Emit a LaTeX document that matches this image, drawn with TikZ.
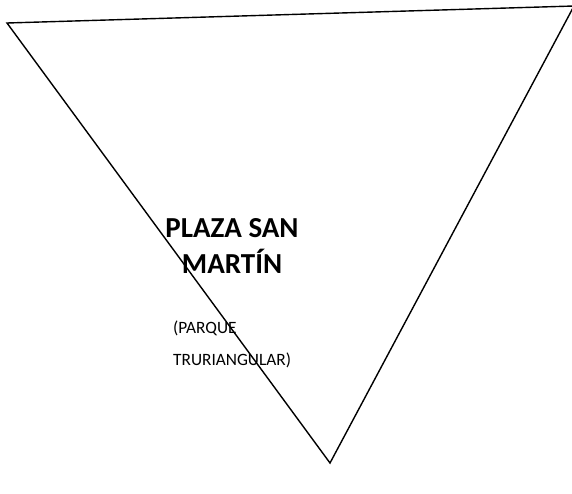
\documentclass[tikz,border=0pt]{standalone}
\usepackage{fontspec}
\setmainfont{Carlito}
\begin{document}
\begin{tikzpicture}[x=1pt,y=-1pt,
  edge/.style={line width=1.4pt,line join=miter},
  title/.style={font=\bfseries\fontsize{29}{34}\selectfont,inner sep=0pt,anchor=base},
  sub/.style={font=\fontsize{17.3}{21}\selectfont,inner sep=0pt,anchor=base west}]
\useasboundingbox (0,0) rectangle (572,493);
\coordinate (tl) at (7,23);
\coordinate (tr) at (574,6);
\coordinate (bt) at (330,463);
\draw[edge] (tl) -- (tr) -- (bt) -- cycle;
\node[title] (t1) at (232,237) {PLAZA SAN};
\node[title] (t2) at (232,273) {MARTÍN};
\node[sub] (s1) at (173,333) {(PARQUE};
\node[sub] (s2) at (173,365) {TRURIANGULAR)};
\end{tikzpicture}
\end{document}
